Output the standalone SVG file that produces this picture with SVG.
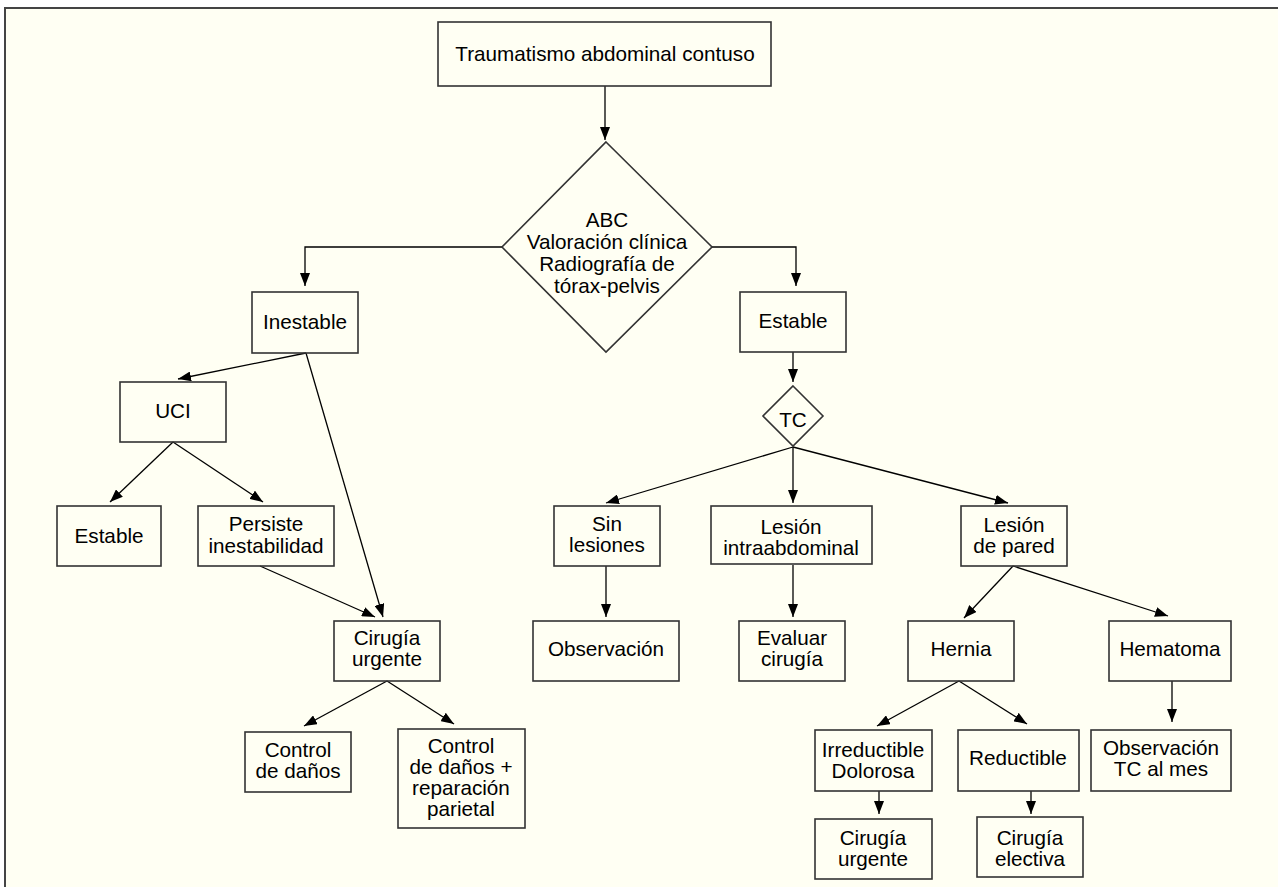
<svg xmlns="http://www.w3.org/2000/svg" width="1278" height="887" viewBox="0 0 1278 887">
<style>
.box{fill:none;stroke:#333;stroke-width:1.6}
.t{font-family:"Liberation Sans",Arial,sans-serif;font-size:20.7px;fill:#000;text-anchor:middle}
.c{fill:none;stroke:#000;stroke-width:1.3;marker-end:url(#ah)}
</style>
<defs>
<marker id="ah" markerUnits="userSpaceOnUse" markerWidth="13" markerHeight="10" refX="13" refY="5" orient="auto">
<path d="M0,0 L13,5 L0,10 z" fill="#000"/>
</marker>
</defs>
<rect x="0" y="0" width="1278" height="887" fill="#fff"/>
<rect x="5" y="8" width="1273" height="879" fill="#fffff3"/>
<path d="M5,887 V8 H1278" fill="none" stroke="#444" stroke-width="2"/>

<g id="connectors">
<path class="c" d="M605,86 V140"/>
<path class="c" d="M502,247 H305 V286"/>
<path class="c" d="M712,247 H796 V286"/>
<path class="c" d="M306,353 L178,379"/>
<path class="c" d="M306,353 L383,617"/>
<path class="c" d="M173,442 L110,502"/>
<path class="c" d="M173,442 L263,502"/>
<path class="c" d="M260,566 L375,617"/>
<path class="c" d="M387,681 L304,726"/>
<path class="c" d="M387,681 L454,724"/>
<path class="c" d="M793,352 V382"/>
<path class="c" d="M793,447 L606,503"/>
<path class="c" d="M793,447 V503"/>
<path class="c" d="M793,447 L1008,503"/>
<path class="c" d="M606,566 V617"/>
<path class="c" d="M793,565 V617"/>
<path class="c" d="M1013,566 L964,618"/>
<path class="c" d="M1013,566 L1168,616"/>
<path class="c" d="M959,681 L877,726"/>
<path class="c" d="M959,681 L1027,724"/>
<path class="c" d="M1172,681 V722"/>
<path class="c" d="M879,791 V814"/>
<path class="c" d="M1031,791 V814"/>
</g>

<g id="n-trauma"><rect class="box" x="438" y="22" width="333" height="64"/><text class="t" x="605" y="61">Traumatismo abdominal contuso</text></g>
<g id="n-abc"><polygon class="box" points="606,142 712,247 606,352 502,247"/><text class="t" x="607" y="227">ABC</text><text class="t" x="607" y="249">Valoración clínica</text><text class="t" x="607" y="271">Radiografía de</text><text class="t" x="607" y="293">tórax-pelvis</text></g>
<g id="n-inestable"><rect class="box" x="252" y="292" width="106" height="61"/><text class="t" x="305" y="329">Inestable</text></g>
<g id="n-estable"><rect class="box" x="740" y="292" width="106" height="60"/><text class="t" x="793" y="328">Estable</text></g>
<g id="n-tc"><polygon class="box" points="793,386 823,416 793,446 763,416"/><text class="t" x="793" y="427">TC</text></g>
<g id="n-uci"><rect class="box" x="120" y="382" width="106" height="60"/><text class="t" x="173" y="418">UCI</text></g>
<g id="n-estable2"><rect class="box" x="57" y="506" width="104" height="60"/><text class="t" x="109" y="543">Estable</text></g>
<g id="n-persiste"><rect class="box" x="198" y="506" width="136" height="60"/><text class="t" x="266" y="531">Persiste</text><text class="t" x="266" y="553">inestabilidad</text></g>
<g id="n-cirugia1"><rect class="box" x="334" y="621" width="106" height="60"/><text class="t" x="387" y="645">Cirugía</text><text class="t" x="387" y="666">urgente</text></g>
<g id="n-control"><rect class="box" x="245" y="732" width="106" height="60"/><text class="t" x="298" y="757">Control</text><text class="t" x="298" y="778">de daños</text></g>
<g id="n-control2"><rect class="box" x="398" y="729" width="127" height="99"/><text class="t" x="461" y="753">Control</text><text class="t" x="461" y="774">de daños +</text><text class="t" x="461" y="795">reparación</text><text class="t" x="461" y="816">parietal</text></g>
<g id="n-sin"><rect class="box" x="554" y="506" width="106" height="60"/><text class="t" x="607" y="531">Sin</text><text class="t" x="607" y="552">lesiones</text></g>
<g id="n-intra"><rect class="box" x="711" y="506" width="161" height="58"/><text class="t" x="791" y="534">Lesión</text><text class="t" x="791" y="555">intraabdominal</text></g>
<g id="n-pared"><rect class="box" x="961" y="506" width="106" height="60"/><text class="t" x="1014" y="532">Lesión</text><text class="t" x="1014" y="553">de pared</text></g>
<g id="n-obs"><rect class="box" x="533" y="621" width="146" height="60"/><text class="t" x="606" y="656">Observación</text></g>
<g id="n-eval"><rect class="box" x="739" y="621" width="106" height="60"/><text class="t" x="792" y="645">Evaluar</text><text class="t" x="792" y="666">cirugía</text></g>
<g id="n-hernia"><rect class="box" x="908" y="621" width="106" height="60"/><text class="t" x="961" y="656">Hernia</text></g>
<g id="n-hematoma"><rect class="box" x="1109" y="621" width="122" height="60"/><text class="t" x="1170" y="656">Hematoma</text></g>
<g id="n-irred"><rect class="box" x="815" y="730" width="117" height="61"/><text class="t" x="873" y="757">Irreductible</text><text class="t" x="873" y="778">Dolorosa</text></g>
<g id="n-red"><rect class="box" x="958" y="730" width="121" height="61"/><text class="t" x="1018" y="765">Reductible</text></g>
<g id="n-obs2"><rect class="box" x="1091" y="730" width="140" height="61"/><text class="t" x="1161" y="755">Observación</text><text class="t" x="1161" y="776">TC al mes</text></g>
<g id="n-cirugia2"><rect class="box" x="815" y="819" width="117" height="60"/><text class="t" x="873" y="845">Cirugía</text><text class="t" x="873" y="866">urgente</text></g>
<g id="n-electiva"><rect class="box" x="977" y="817" width="106" height="60"/><text class="t" x="1030" y="845">Cirugía</text><text class="t" x="1030" y="866">electiva</text></g>
</svg>
